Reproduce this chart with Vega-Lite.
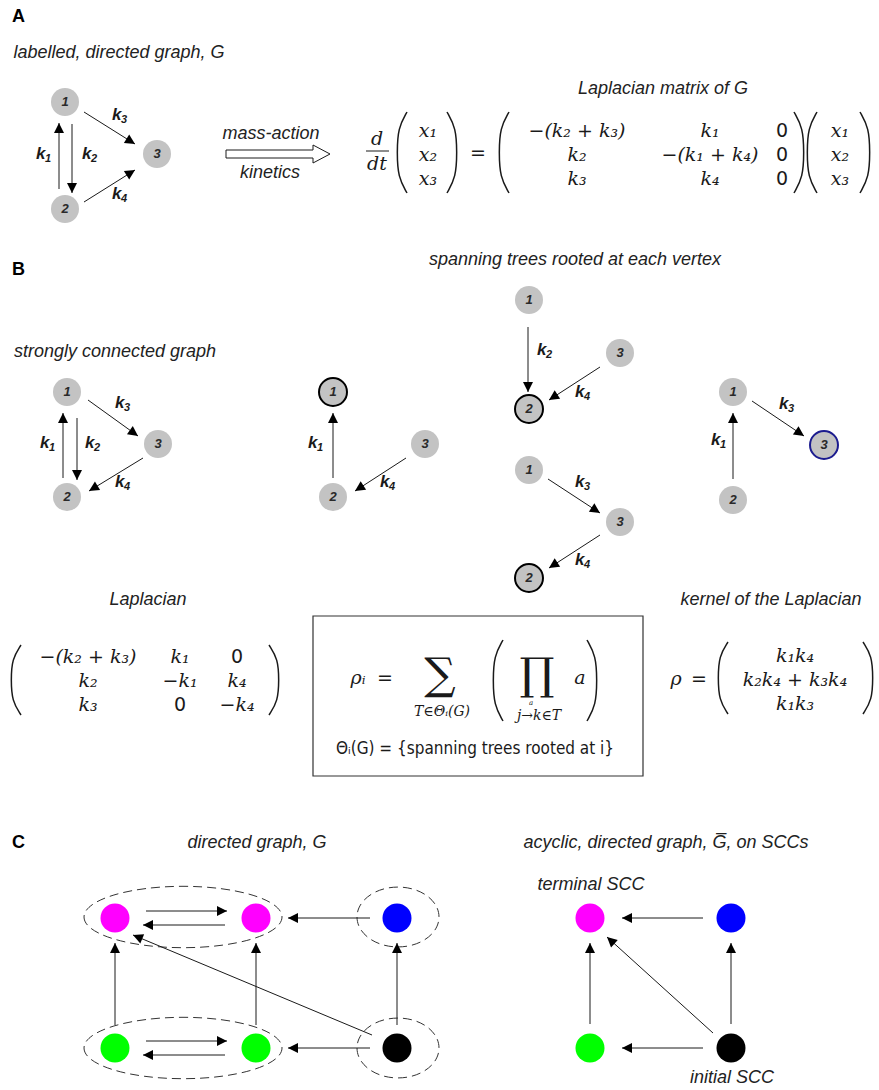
{
  "$schema": "https://vega.github.io/schema/vega-lite/v6.json",
  "width": 879,
  "height": 1090,
  "autosize": {"type": "fit", "contains": "padding"},
  "padding": 0,
  "background": "white",
  "config": {"view": {"stroke": null}},
  "datasets": {
    "ellipses": [
      {"x": 183, "y": 917, "kind": "pair"},
      {"x": 183, "y": 1048, "kind": "pair"},
      {"x": 398, "y": 917, "kind": "single"},
      {"x": 398, "y": 1048, "kind": "single"}
    ],
    "arrows": [
      {"x": 59, "y": 189, "x2": 59, "y2": 123},
      {"x": 72, "y": 124, "x2": 72, "y2": 193},
      {"x": 84, "y": 112, "x2": 135, "y2": 144},
      {"x": 84, "y": 202, "x2": 135, "y2": 170},
      {"x": 63, "y": 478, "x2": 63, "y2": 413},
      {"x": 77, "y": 418, "x2": 77, "y2": 480},
      {"x": 88, "y": 400, "x2": 138, "y2": 436},
      {"x": 143, "y": 458, "x2": 89, "y2": 491},
      {"x": 333, "y": 478, "x2": 333, "y2": 413},
      {"x": 406, "y": 458, "x2": 355, "y2": 491},
      {"x": 528, "y": 327, "x2": 528, "y2": 392},
      {"x": 600, "y": 367, "x2": 549, "y2": 400},
      {"x": 548, "y": 479, "x2": 600, "y2": 513},
      {"x": 600, "y": 535, "x2": 549, "y2": 568},
      {"x": 733, "y": 479, "x2": 733, "y2": 413},
      {"x": 752, "y": 401, "x2": 804, "y2": 436},
      {"x": 146, "y": 911, "x2": 227, "y2": 911},
      {"x": 225, "y": 925, "x2": 143, "y2": 925},
      {"x": 370, "y": 918, "x2": 288, "y2": 918},
      {"x": 115, "y": 1025, "x2": 115, "y2": 943},
      {"x": 256, "y": 1025, "x2": 256, "y2": 943},
      {"x": 397, "y": 1025, "x2": 397, "y2": 943},
      {"x": 372, "y": 1035, "x2": 133, "y2": 935},
      {"x": 146, "y": 1041, "x2": 227, "y2": 1041},
      {"x": 225, "y": 1055, "x2": 143, "y2": 1055},
      {"x": 370, "y": 1048, "x2": 288, "y2": 1048},
      {"x": 703, "y": 918, "x2": 622, "y2": 918},
      {"x": 590, "y": 1024, "x2": 590, "y2": 943},
      {"x": 731, "y": 1024, "x2": 731, "y2": 943},
      {"x": 713, "y": 1033, "x2": 607, "y2": 937},
      {"x": 703, "y": 1048, "x2": 622, "y2": 1048}
    ],
    "segs": [
      {"x": 366, "y": 151, "x2": 389, "y2": 151}
    ],
    "box": [
      {"x": 313, "y": 616, "x2": 643, "y2": 776}
    ],
    "hollow": [
      {"o": 0, "x": 226, "y": 150},
      {"o": 1, "x": 313, "y": 150},
      {"o": 2, "x": 313, "y": 145},
      {"o": 3, "x": 330, "y": 154},
      {"o": 4, "x": 313, "y": 163},
      {"o": 5, "x": 313, "y": 158},
      {"o": 6, "x": 226, "y": 158},
      {"o": 7, "x": 226, "y": 150}
    ],
    "parens": [
      {"pid": "P1", "o": 0, "x": 407, "y": 112}, {"pid": "P1", "o": 1, "x": 398, "y": 128}, {"pid": "P1", "o": 2, "x": 397, "y": 152.5}, {"pid": "P1", "o": 3, "x": 398, "y": 177}, {"pid": "P1", "o": 4, "x": 407, "y": 193},
      {"pid": "P2", "o": 0, "x": 447, "y": 112}, {"pid": "P2", "o": 1, "x": 456, "y": 128}, {"pid": "P2", "o": 2, "x": 457, "y": 152.5}, {"pid": "P2", "o": 3, "x": 456, "y": 177}, {"pid": "P2", "o": 4, "x": 447, "y": 193},
      {"pid": "P3", "o": 0, "x": 509, "y": 112}, {"pid": "P3", "o": 1, "x": 500, "y": 128}, {"pid": "P3", "o": 2, "x": 499, "y": 152.5}, {"pid": "P3", "o": 3, "x": 500, "y": 177}, {"pid": "P3", "o": 4, "x": 509, "y": 193},
      {"pid": "P4", "o": 0, "x": 794, "y": 112}, {"pid": "P4", "o": 1, "x": 803, "y": 128}, {"pid": "P4", "o": 2, "x": 804, "y": 152.5}, {"pid": "P4", "o": 3, "x": 803, "y": 177}, {"pid": "P4", "o": 4, "x": 794, "y": 193},
      {"pid": "P5", "o": 0, "x": 817, "y": 112}, {"pid": "P5", "o": 1, "x": 808, "y": 128}, {"pid": "P5", "o": 2, "x": 807, "y": 152.5}, {"pid": "P5", "o": 3, "x": 808, "y": 177}, {"pid": "P5", "o": 4, "x": 817, "y": 193},
      {"pid": "P6", "o": 0, "x": 860, "y": 112}, {"pid": "P6", "o": 1, "x": 869, "y": 128}, {"pid": "P6", "o": 2, "x": 870, "y": 152.5}, {"pid": "P6", "o": 3, "x": 869, "y": 177}, {"pid": "P6", "o": 4, "x": 860, "y": 193},
      {"pid": "P7", "o": 0, "x": 21, "y": 645}, {"pid": "P7", "o": 1, "x": 12, "y": 659}, {"pid": "P7", "o": 2, "x": 11, "y": 680}, {"pid": "P7", "o": 3, "x": 12, "y": 701}, {"pid": "P7", "o": 4, "x": 21, "y": 715},
      {"pid": "P8", "o": 0, "x": 269, "y": 645}, {"pid": "P8", "o": 1, "x": 278, "y": 659}, {"pid": "P8", "o": 2, "x": 279, "y": 680}, {"pid": "P8", "o": 3, "x": 278, "y": 701}, {"pid": "P8", "o": 4, "x": 269, "y": 715},
      {"pid": "P9", "o": 0, "x": 503, "y": 640}, {"pid": "P9", "o": 1, "x": 494, "y": 656}, {"pid": "P9", "o": 2, "x": 493, "y": 680.5}, {"pid": "P9", "o": 3, "x": 494, "y": 705}, {"pid": "P9", "o": 4, "x": 503, "y": 721},
      {"pid": "P10", "o": 0, "x": 587, "y": 640}, {"pid": "P10", "o": 1, "x": 596, "y": 656}, {"pid": "P10", "o": 2, "x": 597, "y": 680.5}, {"pid": "P10", "o": 3, "x": 596, "y": 705}, {"pid": "P10", "o": 4, "x": 587, "y": 721},
      {"pid": "P11", "o": 0, "x": 728, "y": 642}, {"pid": "P11", "o": 1, "x": 719, "y": 656}, {"pid": "P11", "o": 2, "x": 718, "y": 678}, {"pid": "P11", "o": 3, "x": 719, "y": 700}, {"pid": "P11", "o": 4, "x": 728, "y": 714},
      {"pid": "P12", "o": 0, "x": 863, "y": 642}, {"pid": "P12", "o": 1, "x": 872, "y": 656}, {"pid": "P12", "o": 2, "x": 873, "y": 678}, {"pid": "P12", "o": 3, "x": 872, "y": 700}, {"pid": "P12", "o": 4, "x": 863, "y": 714}
    ],
    "nodes": [
      {"x": 65, "y": 102, "n": "1", "kind": "plain"},
      {"x": 157, "y": 154, "n": "3", "kind": "plain"},
      {"x": 65, "y": 209, "n": "2", "kind": "plain"},
      {"x": 67, "y": 392, "n": "1", "kind": "plain"},
      {"x": 158, "y": 444, "n": "3", "kind": "plain"},
      {"x": 67, "y": 497, "n": "2", "kind": "plain"},
      {"x": 333, "y": 392, "n": "1", "kind": "root"},
      {"x": 425, "y": 444, "n": "3", "kind": "plain"},
      {"x": 333, "y": 497, "n": "2", "kind": "plain"},
      {"x": 529, "y": 300, "n": "1", "kind": "plain"},
      {"x": 620, "y": 353, "n": "3", "kind": "plain"},
      {"x": 529, "y": 409, "n": "2", "kind": "root"},
      {"x": 529, "y": 470, "n": "1", "kind": "plain"},
      {"x": 620, "y": 522, "n": "3", "kind": "plain"},
      {"x": 529, "y": 578, "n": "2", "kind": "root"},
      {"x": 733, "y": 392, "n": "1", "kind": "plain"},
      {"x": 824, "y": 445, "n": "3", "kind": "blue"},
      {"x": 733, "y": 500, "n": "2", "kind": "plain"}
    ],
    "cnodes": [
      {"x": 115, "y": 918, "c": "magenta"},
      {"x": 256, "y": 918, "c": "magenta"},
      {"x": 397, "y": 918, "c": "blue"},
      {"x": 115, "y": 1048, "c": "green"},
      {"x": 256, "y": 1048, "c": "green"},
      {"x": 397, "y": 1048, "c": "black"},
      {"x": 590, "y": 918, "c": "magenta"},
      {"x": 731, "y": 918, "c": "blue"},
      {"x": 590, "y": 1048, "c": "green"},
      {"x": 731, "y": 1048, "c": "black"}
    ],
    "klabels": [
      {"x": 36, "y": 154, "s": "1"},
      {"x": 82, "y": 154, "s": "2"},
      {"x": 112, "y": 115, "s": "3"},
      {"x": 112, "y": 194, "s": "4"},
      {"x": 40, "y": 443, "s": "1"},
      {"x": 85, "y": 443, "s": "2"},
      {"x": 115, "y": 403, "s": "3"},
      {"x": 115, "y": 482, "s": "4"},
      {"x": 308, "y": 443, "s": "1"},
      {"x": 380, "y": 482, "s": "4"},
      {"x": 537, "y": 350, "s": "2"},
      {"x": 575, "y": 392, "s": "4"},
      {"x": 575, "y": 482, "s": "3"},
      {"x": 575, "y": 560, "s": "4"},
      {"x": 711, "y": 440, "s": "1"},
      {"x": 779, "y": 404, "s": "3"}
    ],
    "texts": [
      {"x": 12, "y": 17, "t": "A", "st": "letter"},
      {"x": 12, "y": 270, "t": "B", "st": "letter"},
      {"x": 12, "y": 843, "t": "C", "st": "letter"},
      {"x": 119, "y": 53, "t": "labelled, directed graph, G", "st": "cap"},
      {"x": 271, "y": 134, "t": "mass-action", "st": "cap"},
      {"x": 270, "y": 173, "t": "kinetics", "st": "cap"},
      {"x": 663, "y": 89, "t": "Laplacian matrix of G", "st": "cap"},
      {"x": 575, "y": 260, "t": "spanning trees rooted at each vertex", "st": "cap"},
      {"x": 115, "y": 352, "t": "strongly connected graph", "st": "cap"},
      {"x": 148, "y": 600, "t": "Laplacian", "st": "cap"},
      {"x": 771, "y": 600, "t": "kernel of the Laplacian", "st": "cap"},
      {"x": 257, "y": 843, "t": "directed graph, G", "st": "cap"},
      {"x": 666, "y": 843, "t": "acyclic, directed graph, G̅, on SCCs", "st": "cap"},
      {"x": 591, "y": 885, "t": "terminal SCC", "st": "cap"},
      {"x": 732, "y": 1078, "t": "initial SCC", "st": "cap"},
      {"x": 377, "y": 139, "t": "d", "st": "math"},
      {"x": 377, "y": 164, "t": "dt", "st": "math"},
      {"x": 428, "y": 131, "t": "x₁", "st": "math"},
      {"x": 428, "y": 155, "t": "x₂", "st": "math"},
      {"x": 428, "y": 179, "t": "x₃", "st": "math"},
      {"x": 478, "y": 153, "t": "=", "st": "mathup"},
      {"x": 577, "y": 131, "t": "−(k₂ + k₃)", "st": "math"},
      {"x": 710, "y": 131, "t": "k₁", "st": "math"},
      {"x": 782, "y": 131, "t": "0", "st": "mathup"},
      {"x": 577, "y": 155, "t": "k₂", "st": "math"},
      {"x": 710, "y": 155, "t": "−(k₁ + k₄)", "st": "math"},
      {"x": 782, "y": 155, "t": "0", "st": "mathup"},
      {"x": 577, "y": 179, "t": "k₃", "st": "math"},
      {"x": 710, "y": 179, "t": "k₄", "st": "math"},
      {"x": 782, "y": 179, "t": "0", "st": "mathup"},
      {"x": 840, "y": 131, "t": "x₁", "st": "math"},
      {"x": 840, "y": 155, "t": "x₂", "st": "math"},
      {"x": 840, "y": 179, "t": "x₃", "st": "math"},
      {"x": 88, "y": 657, "t": "−(k₂ + k₃)", "st": "math"},
      {"x": 180, "y": 657, "t": "k₁", "st": "math"},
      {"x": 237, "y": 657, "t": "0", "st": "mathup"},
      {"x": 88, "y": 681, "t": "k₂", "st": "math"},
      {"x": 180, "y": 681, "t": "−k₁", "st": "math"},
      {"x": 237, "y": 681, "t": "k₄", "st": "math"},
      {"x": 88, "y": 705, "t": "k₃", "st": "math"},
      {"x": 180, "y": 705, "t": "0", "st": "mathup"},
      {"x": 237, "y": 705, "t": "−k₄", "st": "math"},
      {"x": 358, "y": 678, "t": "ρᵢ", "st": "math"},
      {"x": 385, "y": 678, "t": "=", "st": "mathup"},
      {"x": 440, "y": 676, "t": "∑", "st": "big"},
      {"x": 442, "y": 712, "t": "T∈Θᵢ(G)", "st": "small"},
      {"x": 537, "y": 676, "t": "∏", "st": "big"},
      {"x": 580, "y": 678, "t": "a", "st": "math"},
      {"x": 539, "y": 716, "t": "j→k∈T", "st": "small"},
      {"x": 531, "y": 703, "t": "a", "st": "tiny"},
      {"x": 475, "y": 749, "t": "Θᵢ(G) = {spanning trees rooted at i}", "st": "note"},
      {"x": 676, "y": 679, "t": "ρ", "st": "math"},
      {"x": 699, "y": 679, "t": "=", "st": "mathup"},
      {"x": 795, "y": 656, "t": "k₁k₄", "st": "math"},
      {"x": 795, "y": 680, "t": "k₂k₄ + k₃k₄", "st": "math"},
      {"x": 795, "y": 704, "t": "k₁k₃", "st": "math"}
    ]
  },
  "encoding": {
    "x": {"field": "x", "type": "quantitative", "scale": {"domain": [0, 879], "nice": false, "zero": false}, "axis": null},
    "y": {"field": "y", "type": "quantitative", "scale": {"domain": [0, 1090], "nice": false, "zero": false, "reverse": true}, "axis": null}
  },
  "layer": [
    {
      "data": {"name": "ellipses"},
      "transform": [{"filter": "datum.kind === 'pair'"}],
      "mark": {"type": "point", "shape": "M -1 0 A 1 0.31 0 1 0 1 0 A 1 0.31 0 1 0 -1 0 Z", "size": 39204, "filled": false, "stroke": "#333333", "strokeWidth": 1, "strokeDash": [9, 5], "opacity": 1}
    },
    {
      "data": {"name": "ellipses"},
      "transform": [{"filter": "datum.kind === 'single'"}],
      "mark": {"type": "point", "shape": "M -1 0 A 1 0.73 0 1 0 1 0 A 1 0.73 0 1 0 -1 0 Z", "size": 6724, "filled": false, "stroke": "#333333", "strokeWidth": 1, "strokeDash": [9, 5], "opacity": 1}
    },
    {
      "data": {"name": "arrows"},
      "mark": {"type": "rule", "stroke": "#1a1a1a", "strokeWidth": 1},
      "encoding": {"x2": {"field": "x2"}, "y2": {"field": "y2"}}
    },
    {
      "data": {"name": "arrows"},
      "transform": [{"calculate": "atan2(datum.x2 - datum.x, datum.y - datum.y2) * 180 / PI", "as": "ang"}],
      "mark": {"type": "point", "shape": "M 0 0 L 0.5 1 L -0.5 1 Z", "size": 400, "filled": true, "color": "#000000", "opacity": 1},
      "encoding": {
        "x": {"field": "x2", "type": "quantitative", "scale": {"domain": [0, 879], "nice": false, "zero": false}, "axis": null},
        "y": {"field": "y2", "type": "quantitative", "scale": {"domain": [0, 1090], "nice": false, "zero": false, "reverse": true}, "axis": null},
        "angle": {"field": "ang", "type": "quantitative", "scale": null}
      }
    },
    {
      "data": {"name": "segs"},
      "mark": {"type": "rule", "stroke": "#1a1a1a", "strokeWidth": 1},
      "encoding": {"x2": {"field": "x2"}, "y2": {"field": "y2"}}
    },
    {
      "data": {"name": "box"},
      "mark": {"type": "rect", "fill": "white", "fillOpacity": 0, "stroke": "#333333", "strokeWidth": 1.2},
      "encoding": {"x2": {"field": "x2"}, "y2": {"field": "y2"}}
    },
    {
      "data": {"name": "hollow"},
      "mark": {"type": "line", "stroke": "#1a1a1a", "strokeWidth": 1},
      "encoding": {"order": {"field": "o", "type": "quantitative"}}
    },
    {
      "data": {"name": "parens"},
      "mark": {"type": "line", "stroke": "#1a1a1a", "strokeWidth": 1.5, "interpolate": "basis"},
      "encoding": {"order": {"field": "o", "type": "quantitative"}, "detail": {"field": "pid", "type": "nominal"}}
    },
    {
      "data": {"name": "nodes"},
      "mark": {"type": "point", "shape": "circle", "size": 784, "filled": true, "color": "#c3c3c3", "opacity": 1}
    },
    {
      "data": {"name": "nodes"},
      "transform": [{"filter": "datum.kind === 'root'"}],
      "mark": {"type": "point", "shape": "circle", "size": 784, "filled": false, "stroke": "#000000", "strokeWidth": 2, "opacity": 1}
    },
    {
      "data": {"name": "nodes"},
      "transform": [{"filter": "datum.kind === 'blue'"}],
      "mark": {"type": "point", "shape": "circle", "size": 784, "filled": false, "stroke": "#1c1c8f", "strokeWidth": 2, "opacity": 1}
    },
    {
      "data": {"name": "nodes"},
      "mark": {"type": "text", "font": "Liberation Sans", "fontWeight": "bold", "fontStyle": "italic", "fontSize": 13, "color": "#2a2a2a", "align": "center", "baseline": "middle"},
      "encoding": {"text": {"field": "n"}}
    },
    {
      "data": {"name": "cnodes"},
      "mark": {"type": "point", "shape": "circle", "size": 841, "filled": true, "opacity": 1},
      "encoding": {"color": {"field": "c", "type": "nominal", "scale": {"domain": ["magenta", "blue", "green", "black"], "range": ["#ff00ff", "#0000ff", "#00ff00", "#000000"]}, "legend": null}}
    },
    {
      "data": {"name": "klabels"},
      "mark": {"type": "text", "font": "Liberation Sans", "fontWeight": "bold", "fontStyle": "italic", "fontSize": 17, "color": "#1a1a1a", "align": "left", "baseline": "middle"},
      "encoding": {"text": {"value": "k"}}
    },
    {
      "data": {"name": "klabels"},
      "mark": {"type": "text", "font": "Liberation Sans", "fontWeight": "bold", "fontStyle": "italic", "fontSize": 11, "color": "#1a1a1a", "align": "left", "baseline": "middle", "dx": 9, "dy": 5},
      "encoding": {"text": {"field": "s"}}
    },
    {
      "data": {"name": "texts"},
      "transform": [{"filter": "datum.st === 'letter'"}],
      "mark": {"type": "text", "font": "Liberation Sans", "fontWeight": "bold", "fontSize": 18, "color": "#000000", "align": "left", "baseline": "middle"},
      "encoding": {"text": {"field": "t"}}
    },
    {
      "data": {"name": "texts"},
      "transform": [{"filter": "datum.st === 'cap'"}],
      "mark": {"type": "text", "font": "Liberation Sans", "fontStyle": "italic", "fontSize": 18, "color": "#222222", "align": "center", "baseline": "middle"},
      "encoding": {"text": {"field": "t"}}
    },
    {
      "data": {"name": "texts"},
      "transform": [{"filter": "datum.st === 'math'"}],
      "mark": {"type": "text", "font": "DejaVu Serif", "fontStyle": "italic", "fontSize": 19, "color": "#1a1a1a", "align": "center", "baseline": "middle"},
      "encoding": {"text": {"field": "t"}}
    },
    {
      "data": {"name": "texts"},
      "transform": [{"filter": "datum.st === 'mathup'"}],
      "mark": {"type": "text", "font": "DejaVu Sans", "fontSize": 19, "color": "#1a1a1a", "align": "center", "baseline": "middle"},
      "encoding": {"text": {"field": "t"}}
    },
    {
      "data": {"name": "texts"},
      "transform": [{"filter": "datum.st === 'big'"}],
      "mark": {"type": "text", "font": "DejaVu Serif", "fontSize": 44, "color": "#1a1a1a", "align": "center", "baseline": "middle"},
      "encoding": {"text": {"field": "t"}}
    },
    {
      "data": {"name": "texts"},
      "transform": [{"filter": "datum.st === 'small'"}],
      "mark": {"type": "text", "font": "DejaVu Serif", "fontStyle": "italic", "fontSize": 14, "color": "#1a1a1a", "align": "center", "baseline": "middle"},
      "encoding": {"text": {"field": "t"}}
    },
    {
      "data": {"name": "texts"},
      "transform": [{"filter": "datum.st === 'tiny'"}],
      "mark": {"type": "text", "font": "DejaVu Serif", "fontStyle": "italic", "fontSize": 7, "color": "#1a1a1a", "align": "center", "baseline": "middle"},
      "encoding": {"text": {"field": "t"}}
    },
    {
      "data": {"name": "texts"},
      "transform": [{"filter": "datum.st === 'note'"}],
      "mark": {"type": "text", "font": "DejaVu Sans Condensed, Liberation Sans Narrow, sans-serif", "fontSize": 17, "color": "#1a1a1a", "align": "center", "baseline": "middle"},
      "encoding": {"text": {"field": "t"}}
    }
  ]
}
